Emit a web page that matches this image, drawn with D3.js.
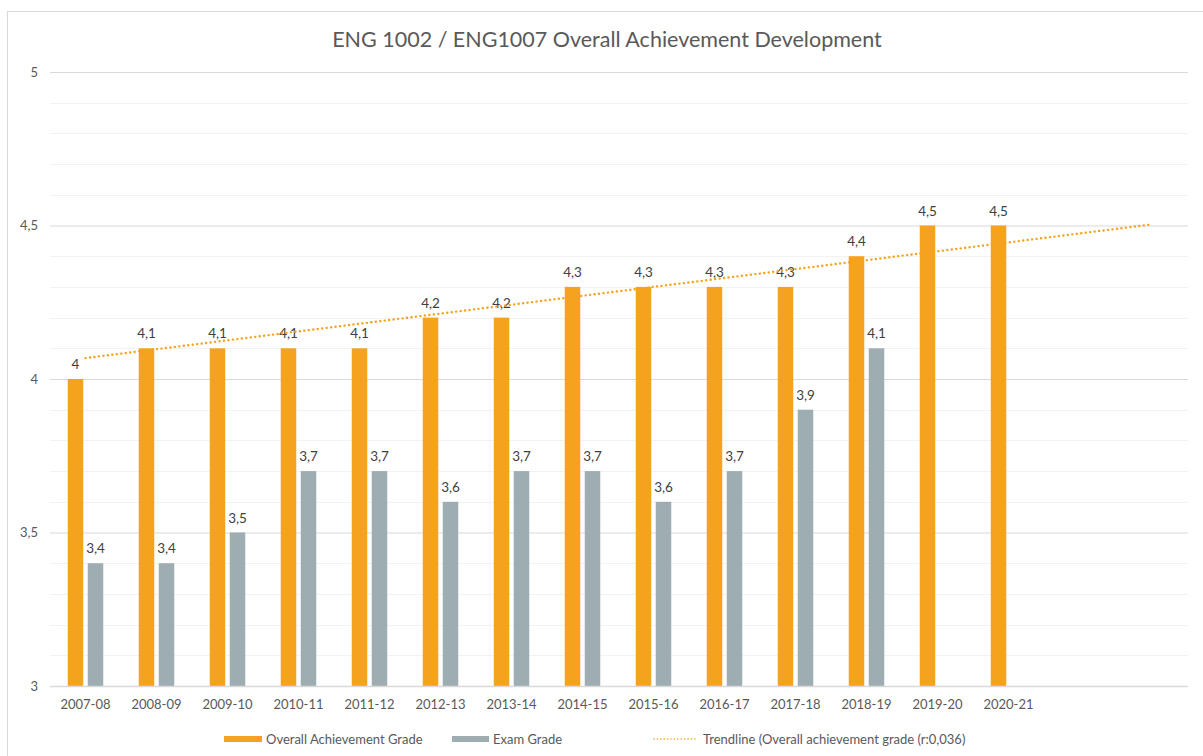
<!DOCTYPE html>
<html>
<head>
<meta charset="utf-8">
<script src="https://cdn.jsdelivr.net/npm/d3@7"></script>
<style>
  body { margin: 0; background: #fff; }
  text { font-family: "Lato", "Open Sans", sans-serif; }
</style>
</head>
<body>
<div id="chart"></div>
<script>
// data
var years = ['2007-08','2008-09','2009-10','2010-11','2011-12','2012-13','2013-14',
             '2014-15','2015-16','2016-17','2017-18','2018-19','2019-20','2020-21'];
var overall = [4, 4.1, 4.1, 4.1, 4.1, 4.2, 4.2, 4.3, 4.3, 4.3, 4.3, 4.4, 4.5, 4.5];
var exam = [3.4, 3.4, 3.5, 3.7, 3.7, 3.6, 3.7, 3.7, 3.6, 3.7, 3.9, 4.1, null, null];
// trendline end points (category index 1..16, value), forecast 2 periods ahead
var trendPts = [[1, 4.068], [16, 4.503]];
var yTicks = [3, 3.5, 4, 4.5, 5];
var legendLabels = ['Overall Achievement Grade', 'Exam Grade', 'Trendline (Overall achievement grade (r:0,036)'];

var W = 1203, H = 756;
var orange = '#F5A31F', grey = '#9DADB2';
var fmt = function (v) { return String(v).replace('.', ','); };

var svg = d3.select('#chart').append('svg')
    .attr('width', W)
    .attr('height', H);

// outer chart border
svg.append('rect')
    .attr('x', 7.5).attr('y', 11.5)
    .attr('width', W).attr('height', H)
    .attr('fill', 'none')
    .attr('stroke', '#d9d9d9');

var plotL = 50, plotR = 1186, plotT = 72, plotB = 686;

// 16 slots: 14 years + 2 empty for the trend forecast
var slots = d3.range(1, 17);
var x = d3.scaleBand().domain(slots).range([plotL, plotR]);
var y = d3.scaleLinear().domain([3, 5]).range([plotB, plotT]);

// minor grid every 0.1
var minor = d3.range(30, 51).map(function (d) { return d / 10; })
    .filter(function (d) { return Math.round(d * 10) % 5 != 0; });
svg.append('g').selectAll('line')
    .data(minor).enter().append('line')
    .attr('x1', plotL).attr('x2', plotR + 2)
    .attr('y1', function (d) { return Math.round(y(d)) + 0.5; })
    .attr('y2', function (d) { return Math.round(y(d)) + 0.5; })
    .attr('stroke', '#f2f2f2');

// y axis with major grid
var yAxis = svg.append('g')
    .attr('transform', `translate(${plotL},0)`)
    .call(d3.axisLeft(y).tickValues(yTicks).tickSize(-(plotR + 2 - plotL)).tickPadding(12).tickFormat(fmt));
yAxis.select('.domain').remove();
yAxis.selectAll('line').attr('stroke', '#d9d9d9');
yAxis.selectAll('text').attr('fill', '#595959').style('font-size', '13px');

var bw = 15.5, gap = 4.5;

// overall bars
svg.append('g').selectAll('rect')
    .data(overall).enter().append('rect')
    .attr('x', function (d, i) { return x(i + 1) + x.bandwidth() / 2 - gap / 2 - bw; })
    .attr('y', function (d) { return y(d); })
    .attr('width', bw)
    .attr('height', function (d) { return y(3) - y(d); })
    .attr('fill', orange);

// exam bars
var examData = exam.map(function (v, i) { return {v: v, i: i}; }).filter(function (d) { return d.v != null; });
svg.append('g').selectAll('rect')
    .data(examData).enter().append('rect')
    .attr('x', function (d) { return x(d.i + 1) + x.bandwidth() / 2 + gap / 2; })
    .attr('y', function (d) { return y(d.v); })
    .attr('width', bw)
    .attr('height', function (d) { return y(3) - y(d.v); })
    .attr('fill', grey);

// axis line at 3
svg.append('line')
    .attr('x1', plotL).attr('x2', plotR + 2)
    .attr('y1', Math.round(y(3)) + 0.5).attr('y2', Math.round(y(3)) + 0.5)
    .attr('stroke', '#d9d9d9').attr('stroke-width', 1.5);

// data labels
svg.append('g').selectAll('text')
    .data(overall).enter().append('text')
    .attr('x', function (d, i) { return x(i + 1) + x.bandwidth() / 2 - gap / 2 - bw / 2; })
    .attr('y', function (d) { return y(d) - 10; })
    .attr('text-anchor', 'middle')
    .attr('fill', '#404040')
    .style('font-size', '13.5px')
    .text(fmt);
svg.append('g').selectAll('text')
    .data(examData).enter().append('text')
    .attr('x', function (d) { return x(d.i + 1) + x.bandwidth() / 2 + gap / 2 + bw / 2; })
    .attr('y', function (d) { return y(d.v) - 10; })
    .attr('text-anchor', 'middle')
    .attr('fill', '#404040')
    .style('font-size', '13.5px')
    .text(function (d) { return fmt(d.v); });

// trendline
var cx = function (k) { return x(k) + x.bandwidth() / 2; };
svg.append('path')
    .datum(trendPts)
    .attr('d', d3.line().x(function (d) { return cx(d[0]); }).y(function (d) { return y(d[1]); }))
    .attr('fill', 'none')
    .attr('stroke', orange)
    .attr('stroke-width', 2.4)
    .attr('stroke-dasharray', '0.1 4.4')
    .attr('stroke-linecap', 'round');

// x labels
svg.append('g').selectAll('text')
    .data(years).enter().append('text')
    .attr('x', function (d, i) { return cx(i + 1); })
    .attr('y', 709)
    .attr('text-anchor', 'middle')
    .attr('fill', '#595959')
    .style('font-size', '13px')
    .text(function (d) { return d; });

// title
svg.append('text')
    .attr('x', 607).attr('y', 47)
    .attr('text-anchor', 'middle')
    .attr('fill', '#595959')
    .style('font-size', '21.5px')
    .text('ENG 1002 / ENG1007 Overall Achievement Development');

// legend
var lg = svg.append('g');
var ly = 739;
lg.append('rect').attr('x', 224).attr('y', ly - 3).attr('width', 38).attr('height', 6).attr('fill', orange);
lg.append('text').attr('x', 266).attr('y', ly + 5).text(legendLabels[0]);
lg.append('rect').attr('x', 452).attr('y', ly - 3).attr('width', 37).attr('height', 6).attr('fill', grey);
lg.append('text').attr('x', 493).attr('y', ly + 5).text(legendLabels[1]);
lg.append('line').attr('x1', 654).attr('x2', 697).attr('y1', ly).attr('y2', ly)
    .attr('stroke', orange).attr('stroke-width', 1.6)
    .attr('stroke-dasharray', '0.1 3.3').attr('stroke-linecap', 'round');
lg.append('text').attr('x', 703).attr('y', ly + 5).text(legendLabels[2]);
lg.selectAll('text').attr('fill', '#595959').style('font-size', '13px');
</script>
</body>
</html>
